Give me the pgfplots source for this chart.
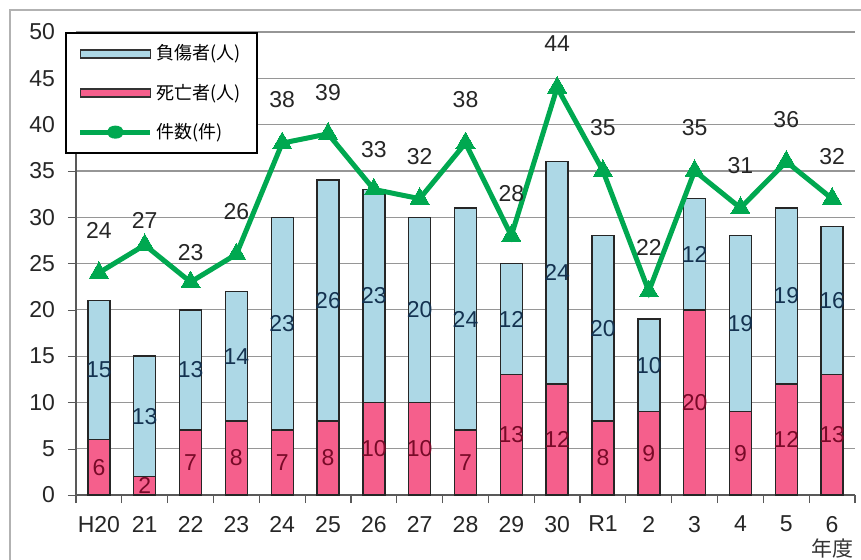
\documentclass[border=0pt]{standalone}
\usepackage{pgfplots}
\usepackage{pgfplotstable}
\pgfplotsset{compat=1.18}
\usepackage{fontspec}
\setmainfont{Liberation Sans}
\newfontfamily\cjk{Noto Sans CJK JP}
\definecolor{injC}{RGB}{173,216,230}
\definecolor{deaC}{RGB}{245,95,140}
\definecolor{lineC}{RGB}{0,168,80}
\definecolor{gridC}{RGB}{150,150,150}
\definecolor{deaT}{RGB}{120,10,40}
\definecolor{injT}{RGB}{20,50,80}

\pgfplotstableread{
x d i n ly
0 6 15 24 28.6
1 2 13 27 29.7
2 7 13 23 26.2
3 8 14 26 30.6
4 7 23 38 42.7
5 8 26 39 43.5
6 10 23 33 37.3
7 10 20 32 36.6
8 7 24 38 42.7
9 13 12 28 32.6
10 12 24 44 48.7
11 8 20 35 39.7
12 9 10 22 26.7
13 20 12 35 39.7
14 9 19 31 35.6
15 12 19 36 40.5
16 13 16 32 36.6
}\data

\pgfplotsset{
  common/.style={
    scale only axis, width=389.5pt, height=231.5pt,
    at={(0pt,0pt)}, anchor=south west,
    xmin=-0.5, xmax=16.5, ymin=0, ymax=50,
  },
  barleg/.style={legend image code/.code={\draw[##1] (0pt,-2pt) rectangle (35pt,2pt);}},
  lineleg/.style={legend image code/.code={\draw[##1] (0pt,0pt) -- (35pt,0pt);
     \fill[lineC] (17.5pt,0pt) ellipse (3pt and 2pt);}},
}

\begin{document}
\begin{tikzpicture}
\useasboundingbox (-38pt,-32pt) rectangle (392.5pt,247.5pt);
\draw[gray!60, line width=0.8pt] (-33pt,-40pt) -- (-33pt,242.5pt) -- (400pt,242.5pt);
\begin{axis}[common,
  ybar stacked, bar width=11pt,
  axis x line*=bottom, axis y line*=left,
  axis line style={gray!70!black, line width=0.6pt},
  ytick={0,5,...,50},
  xtick={0,...,16},
  xticklabels={H20,21,22,23,24,25,26,27,28,29,30,R1,2,3,4,5,6},
  major x tick style={draw=none},
  minor xtick={-0.5,0.5,...,16.5},
  minor tick length=4pt,
  major tick length=4pt,
  tick align=outside,
  ytick style={gray!70!black},
  minor x tick style={gray!70!black, line width=0.6pt},
  ymajorgrids, grid style={gridC, line width=0.6pt},
  tick label style={font=\fontsize{11.5}{13}\selectfont, text=black!85},
  yticklabel style={xshift=-3pt},
  xticklabel style={yshift=-3pt},
  /pgf/number format/assume math mode=true,
  legend cell align=left,
  legend style={at={(-0.014,1)}, anchor=north west, draw=black, line width=0.8pt,
     font=\cjk\fontsize{9}{11}\selectfont, inner xsep=6pt, inner ysep=4pt,
     row sep=6.5pt, /tikz/every even column/.append style={column sep=2pt}},
]
\addplot[fill=deaC, draw=black!85, line width=0.7pt, forget plot] table[x=x, y=d] {\data};
\addplot[fill=injC, draw=black!85, line width=0.7pt, forget plot] table[x=x, y=i] {\data};
\addlegendimage{barleg, fill=injC, draw=black!80, line width=0.8pt}
\addlegendentry{負傷者(人)}
\addlegendimage{barleg, fill=deaC, draw=black!80, line width=0.8pt}
\addlegendentry{死亡者(人)}
\addlegendimage{lineleg, draw=lineC, line width=2.5pt}
\addlegendentry{件数(件)}
\end{axis}
\begin{axis}[common, axis lines=none, clip=false]
\addplot[lineC, line width=2.5pt, mark=triangle*, mark size=5.5pt, mark options={solid, line width=0pt}] table[x=x, y=n] {\data};
\addplot[only marks, mark=none, nodes near coords, point meta=explicit symbolic,
  nodes near coords align=center,
  every node near coord/.append style={font=\fontsize{11.5}{13}\selectfont, text=deaT, inner sep=0pt}]
  table[x=x, y expr=\thisrow{d}/2, meta=d] {\data};
\addplot[only marks, mark=none, nodes near coords, point meta=explicit symbolic,
  nodes near coords align=center,
  every node near coord/.append style={font=\fontsize{11.5}{13}\selectfont, text=injT, inner sep=0pt}]
  table[x=x, y expr=\thisrow{d}+\thisrow{i}/2, meta=i] {\data};
\addplot[only marks, mark=none, nodes near coords, point meta=explicit symbolic,
  nodes near coords align=center,
  every node near coord/.append style={font=\fontsize{11.5}{13}\selectfont, text=black!85, inner sep=0pt}]
  table[x=x, y=ly, meta=n] {\data};
\node[font=\cjk\fontsize{10.5}{12}\selectfont, text=black!80] at (axis cs:16,-5.8) {年度};
\end{axis}
\end{tikzpicture}
\end{document}
